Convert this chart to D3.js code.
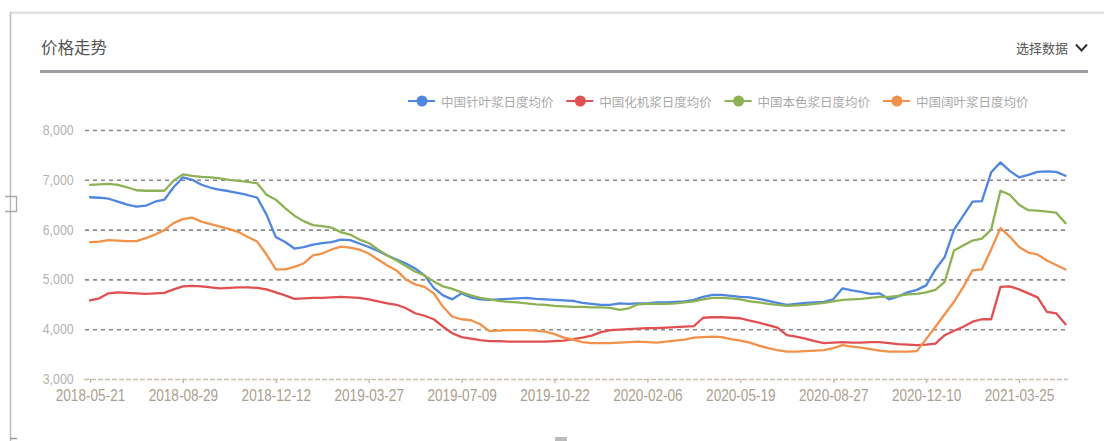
<!DOCTYPE html>
<html><head><meta charset="utf-8">
<script src="https://cdn.jsdelivr.net/npm/d3@7"></script>
<style>
html,body{margin:0;padding:0;background:#fff;}
svg{display:block;}
</style></head><body>
<svg id="c" width="1104" height="441"></svg>
<script>
// ---------- data ----------
const tickLabels = ["2018-05-21","2018-08-29","2018-12-12","2019-03-27","2019-07-09","2019-10-22","2020-02-06","2020-05-19","2020-08-27","2020-12-10","2021-03-25"];
const pointsPerTick = 10;
const yTicks = [3000,4000,5000,6000,7000,8000];
const seriesNames = ["中国针叶浆日度均价","中国化机浆日度均价","中国本色浆日度均价","中国阔叶浆日度均价"];
const seriesColors = ["#4f86e0","#e05050","#8db255","#f2914a"];

const blue = [
6650,6640,6620,6560,6500,6460,6480,6560,6600,6850,
7050,7000,6900,6840,6800,6770,6730,6690,6640,6300,
5850,5750,5620,5650,5700,5730,5750,5800,5790,5720,
5650,5570,5480,5400,5320,5220,5080,4830,4680,4600,
4720,4640,4600,4590,4600,4610,4620,4630,4610,4600,
4590,4580,4570,4530,4510,4490,4490,4520,4510,4520,
4520,4540,4540,4550,4560,4590,4650,4690,4690,4670,
4650,4640,4610,4570,4530,4490,4510,4530,4540,4550,
4600,4820,4780,4750,4710,4720,4600,4660,4740,4790,
4880,5200,5450,6000,6280,6560,6570,7150,7350,7180,
7050,7100,7160,7170,7160,7080];
const red = [
4580,4620,4720,4740,4730,4720,4710,4720,4730,4800,
4860,4870,4860,4840,4820,4830,4840,4840,4830,4800,
4740,4680,4610,4620,4630,4630,4640,4650,4640,4630,
4600,4560,4520,4490,4420,4320,4270,4200,4050,3920,
3840,3810,3780,3760,3760,3750,3750,3750,3750,3750,
3760,3770,3800,3830,3870,3940,3980,3990,4000,4010,
4020,4020,4030,4040,4050,4060,4230,4240,4240,4230,
4220,4170,4130,4080,4030,3880,3850,3810,3760,3720,
3730,3740,3730,3730,3740,3740,3720,3700,3690,3680,
3690,3710,3880,3970,4050,4150,4200,4200,4850,4860,
4800,4720,4640,4350,4320,4100];
const green = [
6900,6910,6920,6900,6850,6790,6780,6780,6780,6980,
7110,7080,7060,7050,7030,7000,6980,6960,6930,6700,
6600,6430,6280,6170,6090,6070,6040,5950,5900,5800,
5730,5600,5480,5380,5270,5160,5080,4960,4860,4810,
4740,4680,4630,4600,4570,4550,4540,4520,4500,4490,
4470,4460,4450,4450,4440,4440,4430,4390,4420,4500,
4510,4510,4510,4520,4540,4560,4600,4630,4630,4620,
4600,4560,4540,4510,4490,4470,4480,4490,4510,4530,
4560,4590,4600,4610,4630,4650,4650,4670,4700,4710,
4740,4790,4950,5580,5680,5780,5820,6000,6780,6700,
6500,6390,6380,6360,6340,6130];
const orange = [
5750,5760,5790,5780,5770,5770,5830,5900,5990,6130,
6210,6240,6160,6110,6060,6010,5950,5850,5760,5500,
5200,5200,5250,5320,5480,5520,5600,5660,5640,5600,
5520,5400,5280,5180,5000,4900,4850,4720,4450,4250,
4200,4180,4100,3960,3970,3980,3980,3980,3970,3950,
3900,3830,3790,3740,3720,3720,3720,3730,3740,3750,
3740,3730,3750,3770,3790,3830,3840,3850,3840,3800,
3770,3730,3670,3620,3580,3550,3550,3560,3570,3580,
3620,3680,3650,3630,3600,3570,3550,3550,3550,3560,
3800,4050,4300,4550,4850,5180,5200,5600,6030,5860,
5650,5540,5500,5380,5290,5200];
const seriesData = [blue, red, green, orange];

// ---------- drawing ----------
const svg = d3.select("#c");
const latin = "'Liberation Sans', Arial, sans-serif";
const cjk = "'Noto Sans CJK SC', sans-serif";

// frame
svg.append("rect").attr("x",10).attr("y",11.5).attr("width",1094).attr("height",2.5).attr("fill","#e2e2e2");
svg.append("line").attr("x1",10.5).attr("x2",10.5).attr("y1",12).attr("y2",441).attr("stroke","#bdbdbd").attr("stroke-width",1.5);
svg.append("path").attr("d","M5,196.5H16.5V211.5H5").attr("fill","none").attr("stroke","#a8a8a8").attr("stroke-width",1.3);
svg.append("line").attr("x1",10).attr("x2",17).attr("y1",438.5).attr("y2",438.5).attr("stroke","#999").attr("stroke-width",1.5);
svg.append("rect").attr("x",555).attr("y",437).attr("width",12).attr("height",4).attr("fill","#bbb");

// header
svg.append("text").attr("x",41).attr("y",47).attr("dominant-baseline","central")
  .attr("font-family",cjk).attr("font-size",16.5).attr("fill","#555").text("价格走势");
svg.append("rect").attr("x",40).attr("y",70).attr("width",1048).attr("height",3).attr("fill","#9d9ca3");
svg.append("text").attr("x",1016).attr("y",47).attr("dominant-baseline","central")
  .attr("font-family",cjk).attr("font-size",13).attr("fill","#555").text("选择数据");
svg.append("path").attr("d","M1076,44.5L1081.5,50.5L1087,44.5").attr("fill","none").attr("stroke","#333").attr("stroke-width",2);

// scales
const x = d3.scaleLinear().domain([0, blue.length-1]).range([90, 1065.5]);
const y = d3.scaleLinear().domain([3000, 8000]).range([379, 130]);

// y axis + grid
const gy = svg.append("g").attr("transform","translate(85,0)")
  .call(d3.axisLeft(y).tickValues(yTicks).tickFormat(d3.format(",")).tickSize(-983).tickPadding(13));
gy.select(".domain").remove();
gy.selectAll(".tick line").attr("stroke","#888").attr("stroke-width",1.6).attr("stroke-dasharray","4,4");
gy.selectAll(".tick").filter(d=>d===3000).select("line").remove();
gy.selectAll(".tick text").attr("fill","#b3b3b3").attr("font-size",14).attr("font-family",latin)
  .attr("transform","scale(0.88,1)");

// x axis
const gx = svg.append("g").attr("transform","translate(0,379)")
  .call(d3.axisBottom(x).tickValues(tickLabels.map((_,i)=>i*pointsPerTick))
    .tickFormat((d,i)=>tickLabels[i]).tickSize(4).tickSizeOuter(0).tickPadding(7));
gx.select(".domain").remove();
gx.append("line").attr("x1",84).attr("x2",1068).attr("y1",0.5).attr("y2",0.5)
  .attr("stroke","#c6bcb1").attr("stroke-width",1.6).attr("stroke-dasharray","5,2");
gx.selectAll(".tick line").attr("stroke","#b9ada0").attr("stroke-width",1.2);
gx.selectAll(".tick text").attr("fill","#ab9f92").attr("font-size",16).attr("font-family",latin)
  .attr("transform","scale(0.85,1)");

// lines
const line = d3.line().x((d,i)=>x(i)).y(d=>y(d));
svg.append("g").selectAll("path").data(seriesData).join("path")
  .attr("d",line).attr("fill","none")
  .attr("stroke",(d,i)=>seriesColors[i]).attr("stroke-width",2.3)
  .attr("stroke-linejoin","round").attr("stroke-linecap","round");

// legend
const lg = svg.append("g").attr("transform","translate(422,101)");
const items = lg.selectAll("g").data(seriesNames).join("g")
  .attr("transform",(d,i)=>`translate(${i*158.3},0)`);
items.append("line").attr("x1",-14).attr("x2",13).attr("y1",0).attr("y2",0)
  .attr("stroke",(d,i)=>seriesColors[i]).attr("stroke-width",2);
items.append("circle").attr("r",5.5).attr("fill",(d,i)=>seriesColors[i]);
items.append("text").attr("x",19).attr("y",0).attr("dominant-baseline","central")
  .attr("font-family",cjk).attr("font-size",12.5).attr("fill","#a9a9a9").text(d=>d);
</script></body></html>
